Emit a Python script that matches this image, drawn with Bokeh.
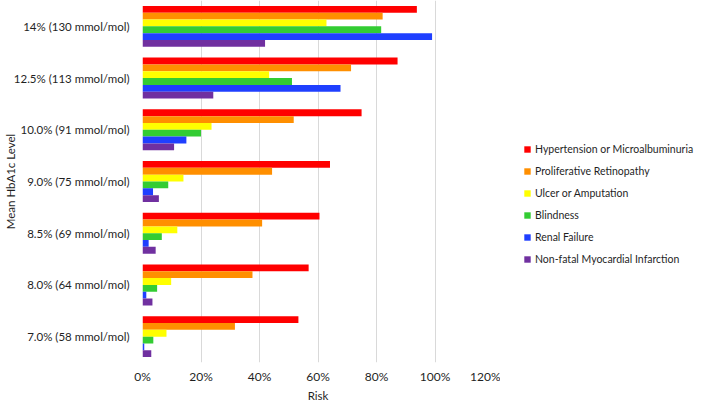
from bokeh.plotting import figure
from bokeh.layouts import row
from bokeh.models import ColumnDataSource, FixedTicker, Legend, LegendItem, Range1d, FactorRange
from bokeh.transform import dodge
from bokeh.embed import file_html
from bokeh.resources import INLINE

# ---- data ----
levels = ["7.0% (58 mmol/mol)", "8.0% (64 mmol/mol)", "8.5% (69 mmol/mol)",
          "9.0% (75 mmol/mol)", "10.0% (91 mmol/mol)", "12.5% (113 mmol/mol)",
          "14% (130 mmol/mol)"]
series_names = ["Hypertension or Microalbuminuria", "Proliferative Retinopathy",
                "Ulcer or Amputation", "Blindness", "Renal Failure",
                "Non-fatal Myocardial Infarction"]
hypertension = [53.3, 56.8, 60.5, 64.1, 74.9, 87.2, 93.8]
retinopathy = [31.6, 37.6, 40.9, 44.3, 51.7, 71.3, 82.1]
ulcer = [8.2, 9.8, 11.9, 14.0, 23.6, 43.3, 62.9]
blindness = [3.7, 5.0, 6.6, 8.8, 20.0, 51.1, 81.6]
renal = [0.6, 1.3, 2.1, 3.6, 15.0, 67.7, 99.0]
mi = [3.0, 3.4, 4.5, 5.6, 10.8, 24.2, 41.9]
x_ticks = [0, 20, 40, 60, 80, 100, 120]
x_tick_labels = ["0%", "20%", "40%", "60%", "80%", "100%", "120%"]

colors = ["#FF0000", "#FF8F00", "#FFFF00", "#33CC33", "#1F3FFF", "#7030A0"]
series_values = [hypertension, retinopathy, ulcer, blindness, renal, mi]
keys = ["s%d" % i for i in range(6)]

data = {"level": levels}
for k, v in zip(keys, series_values):
    data[k] = v
source = ColumnDataSource(data)

FONT = "Lato"
TEXT = "#1F1F1F"

p = figure(width=500, height=404, output_backend="svg", toolbar_location=None,
           y_range=FactorRange(*levels, range_padding=0),
           x_range=Range1d(0, 120),
           min_border_left=135, min_border_right=7, min_border_top=0,
           min_border_bottom=30)
p.outline_line_color = None
p.background_fill_color = "white"
p.border_fill_color = "white"

bh = 0.132
for i, (k, c) in enumerate(zip(keys, colors)):
    off = (2.5 - i) * bh
    p.hbar(y=dodge("level", off, range=p.y_range), right=k, left=0,
           height=bh, source=source, fill_color=c, line_color=None)

p.xaxis.ticker = FixedTicker(ticks=x_ticks)
p.xaxis.major_label_overrides = dict(zip(x_ticks, x_tick_labels))
p.xgrid.ticker = FixedTicker(ticks=x_ticks)
p.xgrid.grid_line_color = "#D9D9D9"
p.ygrid.grid_line_color = None

for ax in (p.xaxis, p.yaxis):
    ax.axis_line_color = None
    ax.major_tick_line_color = None
    ax.minor_tick_line_color = None
    ax.major_label_text_font = FONT
    ax.major_label_text_font_size = "12px"
    ax.major_label_text_color = TEXT
    ax.axis_label_text_font = FONT
    ax.axis_label_text_font_size = "11.5px"
    ax.axis_label_text_font_style = "normal"
    ax.axis_label_text_color = TEXT

p.yaxis.major_label_text_font_size = "11.5px"
p.xaxis.axis_label = "Risk"
p.yaxis.axis_label = "Mean HbA1c Level"
p.xaxis.major_tick_out = 0
p.xaxis.major_label_standoff = 6
p.xaxis.axis_label_standoff = 2
p.yaxis.major_label_standoff = 7
p.yaxis.axis_label_standoff = -6

# ---- legend panel (bars drawn off-view; only their legend swatches show) ----
q = figure(width=200, height=404, output_backend="svg", toolbar_location=None,
           x_range=Range1d(-2, -1), y_range=FactorRange(*levels),
           min_border_left=0, min_border_right=0, min_border_top=0, min_border_bottom=0)
q.axis.visible = False
q.grid.visible = False
q.outline_line_color = None
items = []
for name, k, c in zip(series_names, keys, colors):
    r = q.hbar(y="level", right=k, left=0, height=bh, source=source,
               fill_color=c, line_color=None)
    items.append(LegendItem(label=name, renderers=[r]))

legend = Legend(items=items, location=(23, 93))
legend.label_text_font = FONT
legend.label_text_font_size = "10.5px"
legend.label_text_color = TEXT
legend.glyph_width = 8
legend.glyph_height = 8
legend.label_height = 20
legend.spacing = 2
legend.padding = 0
legend.margin = 0
legend.border_line_color = None
legend.background_fill_alpha = 0
legend.label_standoff = 4
q.add_layout(legend)

open("out.html", "w").write(file_html(row(p, q), INLINE))
